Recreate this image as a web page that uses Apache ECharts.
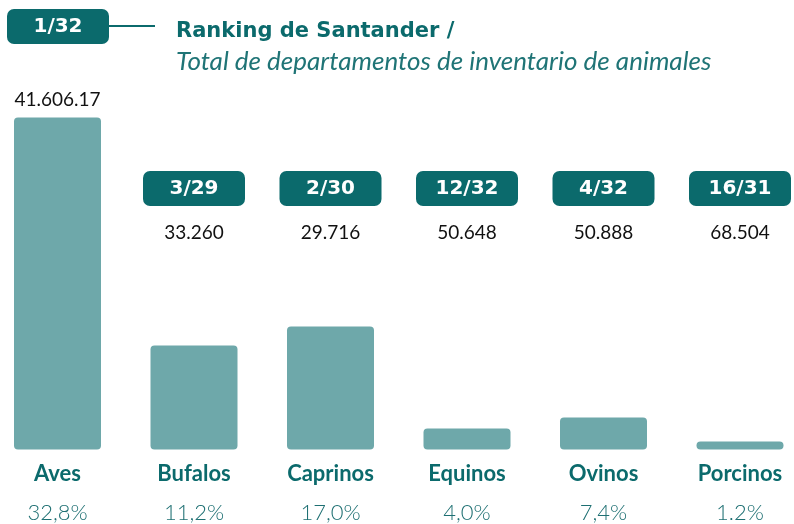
<!DOCTYPE html>
<html>
<head>
<meta charset="utf-8">
<script src="https://cdn.jsdelivr.net/npm/echarts@6/dist/echarts.min.js"></script>
<style>
  html, body { margin: 0; padding: 0; background: #fff; }
  #chart { width: 794px; height: 524px; }
</style>
</head>
<body>
<div id="chart"></div>
<script>
// datos
const categories = ['Aves', 'Bufalos', 'Caprinos', 'Equinos', 'Ovinos', 'Porcinos']
const barValues = [332, 104, 123, 21, 32, 8]
const shares = ['32,8%', '11,2%', '17,0%', '4,0%', '7,4%', '1.2%']
const rankings = ['1/32', '3/29', '2/30', '12/32', '4/32', '16/31']
const totals = ['41.606.17', '33.260', '29.716', '50.648', '50.888', '68.504']

const TEAL = '#0b6a6c'
const BAR = '#6ea8aa'
const FONT = 'Lato'
const WIDE = 'DejaVu Sans'

const chart = echarts.init(document.getElementById('chart'))

const option = {
  animation: false,
  textStyle: { fontFamily: FONT },
  grid: { left: 57.5, right: 47.5, top: 117.5, bottom: 74.5 },
  graphic: [
    {
      type: 'rect',
      shape: { x: 7, y: 9, width: 102, height: 35, r: 7 },
      style: { fill: TEAL }
    },
    {
      type: 'text',
      x: 58, y: 27,
      style: { text: rankings[0], fill: '#fff', font: 'bold 20px ' + WIDE, align: 'center', verticalAlign: 'middle' }
    },
    {
      type: 'line',
      shape: { x1: 109, y1: 26, x2: 155, y2: 26 },
      style: { stroke: TEAL, lineWidth: 2 }
    },
    {
      type: 'text',
      x: 176, y: 32,
      style: { text: 'Ranking de Santander /', fill: TEAL, font: 'bold 21px ' + WIDE, verticalAlign: 'middle' }
    },
    {
      type: 'text',
      x: 176, y: 62,
      style: { text: 'Total de departamentos de inventario de animales', fill: '#1f7476', font: 'italic 26px ' + FONT, verticalAlign: 'middle' }
    }
  ],
  xAxis: [
    {
      type: 'category',
      data: categories,
      boundaryGap: false,
      axisLine: { show: false },
      axisTick: { show: false },
      axisLabel: {
        interval: 0,
        margin: 5,
        formatter: (v, i) => '{name|' + v + '}\n{pct|' + shares[i] + '}',
        rich: {
          name: { fontFamily: FONT, fontSize: 22, fontWeight: 'bold', color: TEAL, lineHeight: 39 },
          pct: { fontFamily: FONT, fontSize: 22, fontWeight: 300, color: '#1d6f72', lineHeight: 39 }
        }
      }
    },
    {
      type: 'category',
      data: categories,
      position: 'top',
      boundaryGap: false,
      offset: -142.5,
      axisLine: { show: false },
      axisTick: { show: false },
      axisLabel: {
        interval: 0,
        margin: 0,
        formatter: (v, i) => i === 0 ? '' : '{badge|' + rankings[i] + '}\n{val|' + totals[i] + '}',
        rich: {
          badge: {
            fontFamily: WIDE, fontSize: 20, fontWeight: 'bold', color: '#fff',
            backgroundColor: TEAL, borderRadius: 7,
            width: 102, height: 35, lineHeight: 35, align: 'center'
          },
          val: { fontFamily: FONT, fontSize: 19, color: '#111', lineHeight: 54, align: 'center' }
        }
      }
    }
  ],
  yAxis: { type: 'value', min: 0, max: 332, show: false },
  series: [
    {
      type: 'bar',
      barWidth: 87,
      data: barValues.map((v, i) => i === 0
        ? { value: v, label: { show: true, position: 'top', distance: 8, formatter: totals[0], fontFamily: FONT, fontSize: 19, color: '#111' } }
        : v),
      itemStyle: { color: BAR, borderRadius: 4 }
    }
  ]
}

chart.setOption(option)
</script>
</body>
</html>
